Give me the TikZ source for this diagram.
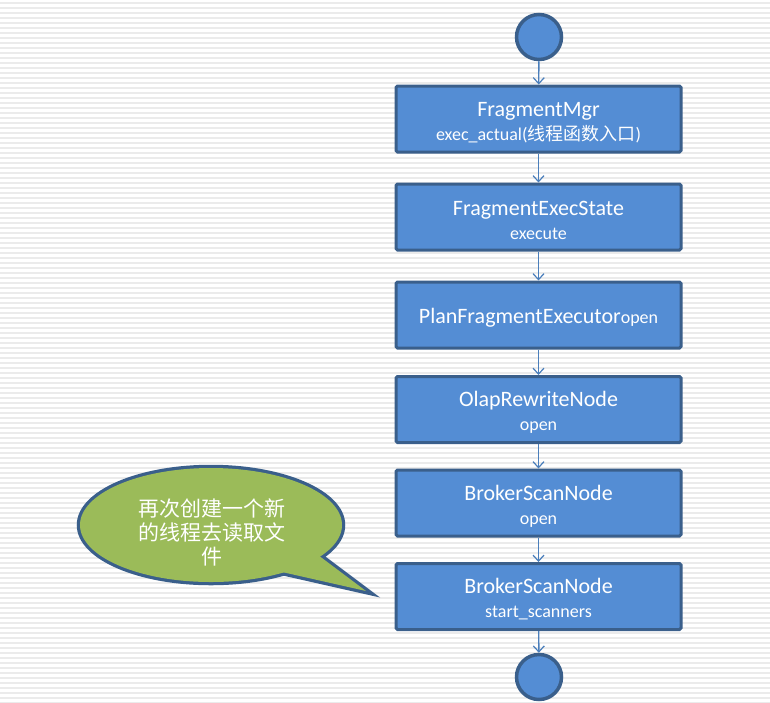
\documentclass[tikz,border=0pt]{standalone}
\usepackage{fontspec}
\setmainfont{Carlito}
\newfontfamily\cjk{Noto Sans CJK SC}
\usetikzlibrary{arrows.meta}
\definecolor{boxfill}{HTML}{548DD4}
\definecolor{boxline}{HTML}{3A5F8B}
\definecolor{arrowc}{HTML}{4A7EBB}
\definecolor{stripe}{HTML}{EBEBEB}
\definecolor{bubble}{HTML}{9BBB59}
\newcommand{\subf}{\fontsize{18}{25}\selectfont}
\newcommand{\tstrut}{\rule{0pt}{21pt}}
\begin{document}
\begin{tikzpicture}[x=1pt,y=1pt,
  stepbox/.style={draw=boxline, fill=boxfill, line width=3pt, rounded corners=1.5pt,
    minimum width=285pt, minimum height=66pt, text=white, align=center, inner sep=0pt,
    font=\fontsize{22}{25}\selectfont},
  endpt/.style={circle, draw=boxline, fill=boxfill, line width=3.5pt, minimum size=45pt, inner sep=0pt},
  flow/.style={draw=arrowc, line width=1.4pt, -{Straight Barb[length=6pt,width=11pt,line width=1.2pt]}}
]
\useasboundingbox (0,0) rectangle (770,-702);
\fill[white] (0,0) rectangle (770,-702);
\foreach \i in {0,...,140} {
  \fill[stripe] (0,-\i*5-2) rectangle (770,-\i*5-4);
}
\node[endpt] (s) at (539,-37) {};
\node[stepbox] (b1) at (538.5,-119) {\tstrut FragmentMgr\\[-1pt]\subf exec\_actual(\cjk 线程函数入口\rmfamily)};
\node[stepbox] (b2) at (538.5,-217) {\tstrut FragmentExecState\\[-1pt]\subf execute};
\node[stepbox] (b3) at (538.5,-315) {\tstrut PlanFragmentExecutor\subf open};
\node[stepbox] (b4) at (538.5,-409.5) {\tstrut OlapRewriteNode\\[-1pt]\subf open};
\node[stepbox] (b5) at (538.5,-503) {\tstrut BrokerScanNode\\[-1pt]\subf open};
\node[stepbox] (b6) at (538.5,-596.5) {\tstrut BrokerScanNode\\[-1pt]\subf start\_scanners};
\node[endpt] (e) at (539,-677) {};
\draw[flow] (s) -- (b1);
\draw[flow] (b1) -- (b2);
\draw[flow] (b2) -- (b3);
\draw[flow] (b3) -- (b4);
\draw[flow] (b4) -- (b5);
\draw[flow] (b5) -- (b6);
\draw[flow] (b6) -- (e);
% speech bubble
\coordinate (tip) at (366,-591);
\draw[boxline, line width=6.5pt, line join=miter] (211,-525) ellipse [x radius=131, y radius=57];
\draw[boxline, line width=6.5pt, line join=miter] (318,-555) -- (tip) -- (282,-572) -- cycle;
\fill[bubble] (211,-525) ellipse [x radius=131, y radius=57];
\fill[bubble] (318,-555) -- (tip) -- (282,-572) -- cycle;
\node[text=white, align=center, font=\cjk\fontsize{21}{24}\selectfont] (t) at (212,-532) {再次创建一个新\\的线程去读取文\\件};
\end{tikzpicture}
\end{document}
